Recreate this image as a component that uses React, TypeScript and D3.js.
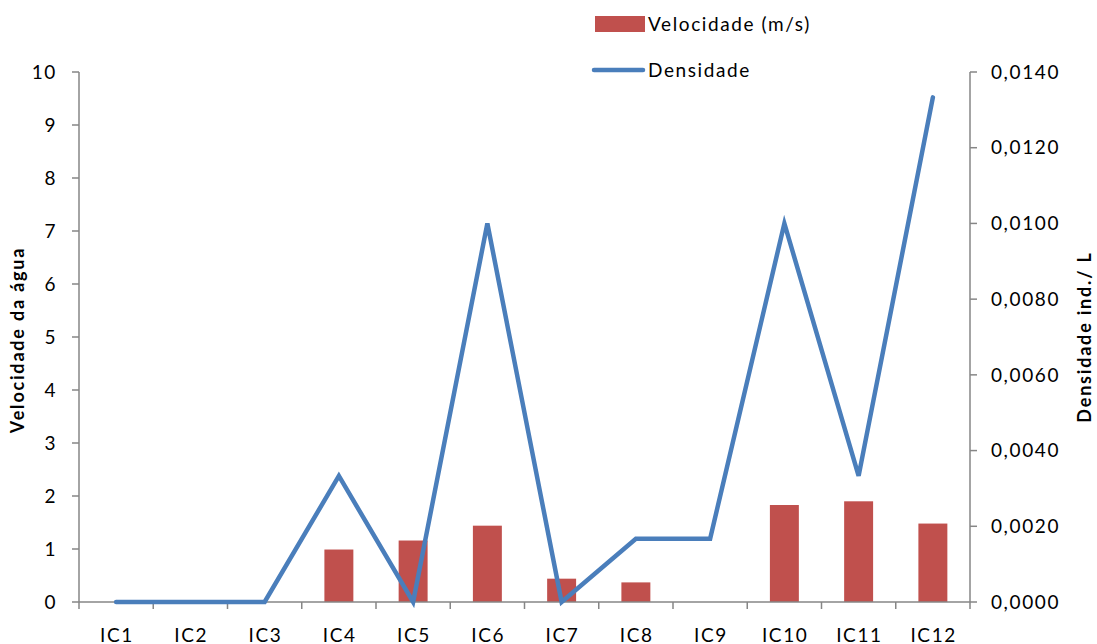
import React from 'react';
import * as d3 from 'd3';

const categories = ['IC1', 'IC2', 'IC3', 'IC4', 'IC5', 'IC6', 'IC7', 'IC8', 'IC9', 'IC10', 'IC11', 'IC12'];
const velocidade = [0, 0, 0, 0.99, 1.16, 1.44, 0.44, 0.37, 0, 1.83, 1.9, 1.48];
const densidade = [0, 0, 0, 0.00333, 0, 0.01, 0, 0.00167, 0.00167, 0.01, 0.00333, 0.01333];
const leftTicks = [0, 1, 2, 3, 4, 5, 6, 7, 8, 9, 10];
const rightTicks = [0, 0.002, 0.004, 0.006, 0.008, 0.01, 0.012, 0.014];

const W = 1097;
const H = 644;
const margin = { top: 72, right: 127, bottom: 42, left: 79 };
const font = 'Lato, "Open Sans", sans-serif';
const ls = 1.6;

export default function App() {
  const innerW = W - margin.left - margin.right;
  const innerH = H - margin.top - margin.bottom;

  const x = d3.scaleBand<string>().domain(categories).range([0, innerW]);
  const yL = d3.scaleLinear().domain([0, 10]).range([innerH, 0]);
  const yR = d3.scaleLinear().domain([0, 0.014]).range([innerH, 0]);

  const barW = x.bandwidth() * 0.39;
  const line = d3.line<number>()
    .x((_, i) => (x(categories[i]) ?? 0) + x.bandwidth() / 2)
    .y(d => yR(d));

  const fmtR = (v: number) => v.toFixed(4).replace('.', ',');
  const axisColor = '#868686';

  return (
    <svg width={W} height={H} style={{ position: 'absolute', left: 0, top: 0, background: '#fff' }}>
      <g transform={`translate(${margin.left},${margin.top})`} fontFamily={font} letterSpacing={ls}>
        {/* bars */}
        {velocidade.map((v, i) => v > 0 && (
          <rect key={categories[i]}
            x={(x(categories[i]) ?? 0) + x.bandwidth() / 2 - barW / 2}
            y={yL(v)} width={barW} height={innerH - yL(v)}
            fill="#c0504d" />
        ))}

        {/* left axis */}
        <line x1={0} x2={0} y1={0} y2={innerH} stroke={axisColor} strokeWidth={1.5} />
        {leftTicks.map(t => (
          <g key={t} transform={`translate(0,${yL(t)})`}>
            <line x1={-7} x2={0} stroke={axisColor} strokeWidth={1.5} />
            <text x={-22} dy="0.35em" textAnchor="end" fontSize={19} fill="#000">{t}</text>
          </g>
        ))}

        {/* right axis */}
        <line x1={innerW} x2={innerW} y1={0} y2={innerH} stroke={axisColor} strokeWidth={1.5} />
        {rightTicks.map(t => (
          <g key={t} transform={`translate(${innerW},${yR(t)})`}>
            <line x1={0} x2={7} stroke={axisColor} strokeWidth={1.5} />
            <text x={21} dy="0.35em" textAnchor="start" fontSize={19} fill="#000">{fmtR(t)}</text>
          </g>
        ))}

        {/* bottom axis */}
        <line x1={0} x2={innerW} y1={innerH} y2={innerH} stroke={axisColor} strokeWidth={1.5} />
        {categories.map((c, i) => (
          <g key={c}>
            <line x1={x(c) ?? 0} x2={x(c) ?? 0} y1={innerH} y2={innerH + 7} stroke={axisColor} strokeWidth={1.5} />
            {i === categories.length - 1 && (
              <line x1={innerW} x2={innerW} y1={innerH} y2={innerH + 7} stroke={axisColor} strokeWidth={1.5} />
            )}
            <text x={(x(c) ?? 0) + x.bandwidth() / 2 + ls / 2} y={innerH + 40} textAnchor="middle" fontSize={19} fill="#000">{c}</text>
          </g>
        ))}

        {/* density line */}
        <path d={line(densidade) ?? ''} fill="none" stroke="#4a7ebb" strokeWidth={4.5} strokeLinejoin="miter" strokeLinecap="round" />

        {/* axis titles */}
        <text transform={`translate(${-55},${innerH / 2 + 3}) rotate(-90)`} textAnchor="middle" fontSize={18} fontWeight="bold" fill="#000" letterSpacing={1.8}>Velocidade  da água</text>
        <text transform={`translate(${innerW + 121},${innerH / 2}) rotate(-90)`} textAnchor="middle" fontSize={18} fontWeight="bold" fill="#000" letterSpacing={1.8}>Densidade ind./ L</text>
      </g>

      {/* legend */}
      <g fontFamily={font} letterSpacing={ls}>
        <rect x={595} y={16} width={50} height={16} fill="#c0504d" />
        <text x={648} y={24} dy="0.35em" fontSize={19} fill="#000">Velocidade (m/s)</text>
        <line x1={594} x2={643} y1={70} y2={70} stroke="#4a7ebb" strokeWidth={4.5} strokeLinecap="round" />
        <text x={648} y={70} dy="0.35em" fontSize={19} fill="#000">Densidade</text>
      </g>
    </svg>
  );
}
